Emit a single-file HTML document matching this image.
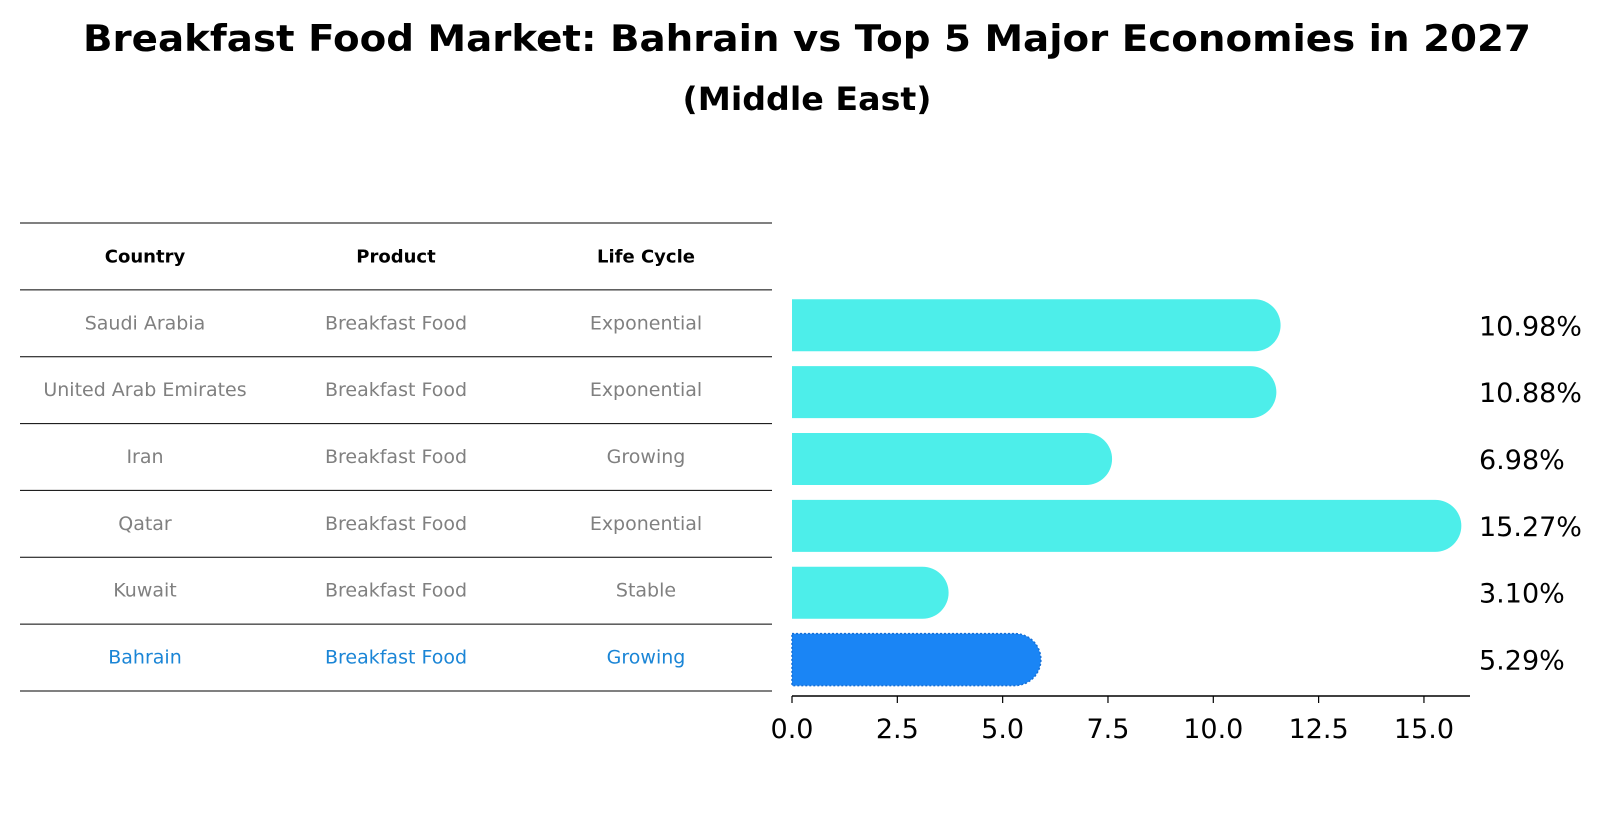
<!DOCTYPE html>
<html><head><meta charset="utf-8">
<style>
body{margin:0;background:#fff;font-family:"DejaVu Sans","Liberation Sans",sans-serif;}
svg{display:block}
</style></head>
<body>
<svg id="chart" width="1604" height="823" viewBox="0 0 1604 823" xmlns="http://www.w3.org/2000/svg">
<rect width="1604" height="823" fill="#fff"/>
<text x="807" y="51" text-anchor="middle" font-size="36.5" font-weight="bold" fill="#000" textLength="1448" lengthAdjust="spacingAndGlyphs">Breakfast Food Market: Bahrain vs Top 5 Major Economies in 2027</text>
<text x="807" y="110" text-anchor="middle" font-size="32" font-weight="bold" fill="#000" textLength="249" lengthAdjust="spacingAndGlyphs">(Middle East)</text>
<g id="table"></g>
<g id="bars"></g>
</svg>
<script>
const countries=["Saudi Arabia","United Arab Emirates","Iran","Qatar","Kuwait","Bahrain"];
const products=["Breakfast Food","Breakfast Food","Breakfast Food","Breakfast Food","Breakfast Food","Breakfast Food"];
const lifeCycles=["Exponential","Exponential","Growing","Exponential","Stable","Growing"];
const values=[10.98,10.88,6.98,15.27,3.10,5.29];
const valueLabels=["10.98%","10.88%","6.98%","15.27%","3.10%","5.29%"];
const tickValues=[0,2.5,5,7.5,10,12.5,15];
const tickLabels=["0.0","2.5","5.0","7.5","10.0","12.5","15.0"];
const highlight="Bahrain";

const NS="http://www.w3.org/2000/svg";
function mk(tag,attrs,parent){const e=document.createElementNS(NS,tag);for(const k in attrs)e.setAttribute(k,attrs[k]);parent.appendChild(e);return e;}
const x0=792,pxPerUnit=42.13;
function xs(v){return x0+v*pxPerUnit;}
const rowTop=223,rowH=(691-223)/7;
function rowCenter(i){return rowTop+rowH*(i+1.5);}

const tbl=document.getElementById('table');
const colX=[145,396,646];
const headers=["Country","Product","Life Cycle"];
for(let i=0;i<=7;i++){
  const y=rowTop+rowH*i;
  const l=mk('line',{x1:20,x2:772,y1:y,y2:y,stroke:'#000','stroke-width':1},tbl);
  
  
}
headers.forEach((h,j)=>{
  const t=mk('text',{x:colX[j],y:rowTop+rowH*0.5+6,'text-anchor':'middle','font-size':18,'font-weight':'bold',fill:'#000'},tbl);
  t.textContent=h;
  
  
});
countries.forEach((c,i)=>{
  const cy=rowCenter(i)+6;
  const col=c===highlight?'#1a85d6':'#808080';
  [c,products[i],lifeCycles[i]].forEach((v,j)=>{
    const t=mk('text',{x:colX[j],y:cy,'text-anchor':'middle','font-size':19,fill:col},tbl);
    t.textContent=v;
    
    
  });
});

const g=document.getElementById('bars');
const bh=52,r=26;
values.forEach((v,i)=>{
  const cy=rowCenter(i)+2;
  const isH=countries[i]===highlight;
  const col=isH?'#1a85f5':'#4deeea';
  const xe=xs(v);
  const p=mk('path',{d:`M${x0},${cy-bh/2} L${xe},${cy-bh/2} A${r},${r} 0 0 1 ${xe},${cy+bh/2} L${x0},${cy+bh/2} Z`,fill:col},g);
  if(isH){p.setAttribute('stroke','#1570d8');p.setAttribute('stroke-dasharray','2,2');p.setAttribute('stroke-width','1.5');}
  
  
  const t=mk('text',{x:1479,y:cy+10,'font-size':27,fill:'#000'},g);
  t.textContent=valueLabels[i];
  
  
});
const ay=696;
const ax=mk('line',{x1:x0,x2:1470,y1:ay,y2:ay,stroke:'#000','stroke-width':1.5},g);


tickValues.forEach((v,i)=>{
  const tx=xs(v);
  const tk=mk('line',{x1:tx,x2:tx,y1:ay,y2:ay+7,stroke:'#000','stroke-width':1.2},g);
  
  
  const t=mk('text',{x:tx,y:ay+42,'text-anchor':'middle','font-size':27,fill:'#000'},g);
  t.textContent=tickLabels[i];
  
  
});
</script>
</body></html>
